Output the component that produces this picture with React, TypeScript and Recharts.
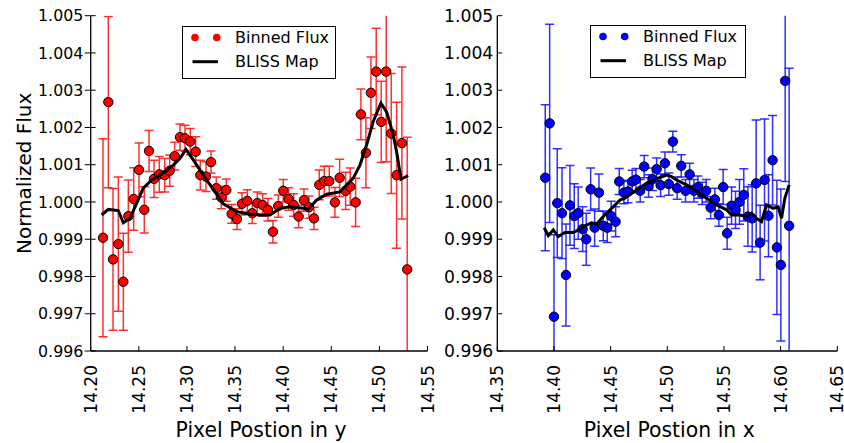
import React from 'react';
import { ComposedChart, Scatter, XAxis, YAxis, ErrorBar, Legend } from 'recharts';

// ---------- shared axis values ----------
const fluxTicks = [0.996, 0.997, 0.998, 0.999, 1.0, 1.001, 1.002, 1.003, 1.004, 1.005];
const fluxDomain = [0.996, 1.005];
const yPosTicks = [14.2, 14.25, 14.3, 14.35, 14.4, 14.45, 14.5, 14.55];
const yPosDomain = [14.2, 14.55];
const xPosTicks = [14.35, 14.4, 14.45, 14.5, 14.55, 14.6, 14.65];
const xPosDomain = [14.35, 14.65];

// ---------- left panel: pixel position in y ----------
const yBinPos = [14.2128, 14.2183, 14.2232, 14.2287, 14.2339, 14.2391, 14.2447, 14.2502, 14.2557, 14.2606,
  14.2658, 14.2713, 14.2769, 14.2821, 14.2873, 14.2928, 14.298, 14.3035, 14.3091, 14.3139,
  14.3198, 14.325, 14.3305, 14.3357, 14.3409, 14.3465, 14.352, 14.3572, 14.3627, 14.3679,
  14.3731, 14.3787, 14.3842, 14.3894, 14.3949, 14.4001, 14.4057, 14.4109, 14.4161, 14.4216,
  14.4268, 14.432, 14.4375, 14.4427, 14.4479, 14.4538, 14.4587, 14.4649, 14.4697, 14.4753,
  14.4808, 14.486, 14.4912, 14.4967, 14.5019, 14.5071, 14.5123, 14.5179, 14.5234, 14.5289];
const yBinFlux = [0.99904, 1.00268, 0.99846, 0.99887, 0.99786, 0.99962, 1.00008, 1.00086, 0.99979, 1.00137,
  1.00062, 1.00074, 1.00072, 1.00084, 1.00123, 1.00174, 1.00171, 1.00162, 1.00135, 1.00072,
  1.00068, 1.00107, 1.00037, 1.00012, 1.00032, 0.99968, 0.99954, 0.99995, 1.00003, 0.9997,
  0.99997, 0.99992, 0.99979, 0.9992, 0.99989, 1.0003, 1.00008, 0.99992, 0.99961, 1.00005,
  0.99986, 0.99956, 1.00046, 1.00056, 1.00056, 0.99999, 1.00065, 1.0003, 1.00041, 0.99999,
  1.00235, 1.00132, 1.00293, 1.0035, 1.00215, 1.0035, 1.00184, 1.00072, 1.00158, 0.99819];
const yBinErr = [0.00266, 0.0023, 0.0019, 0.0018, 0.0013, 0.00097, 0.00084, 0.00072, 0.00062, 0.00055,
  0.0005, 0.00048, 0.00045, 0.00042, 0.00037, 0.00035, 0.00035, 0.00035, 0.0004, 0.0004,
  0.0004, 0.0003, 0.0003, 0.0003, 0.0003, 0.00025, 0.00028, 0.0003, 0.0003, 0.00028,
  0.0003, 0.0003, 0.0003, 0.0003, 0.0003, 0.0003, 0.0003, 0.0003, 0.0003, 0.0003,
  0.0003, 0.0003, 0.0004, 0.0004, 0.0004, 0.0004, 0.0005, 0.0005, 0.0005, 0.00065,
  0.00068, 0.00094, 0.00096, 0.00116, 0.00109, 0.00242, 0.00161, 0.00196, 0.00204, 0.00355];
const yMapPos = [14.2114, 14.2183, 14.2287, 14.2339, 14.2408, 14.2478, 14.2546, 14.2634, 14.2754, 14.2858,
  14.2928, 14.299, 14.3066, 14.317, 14.3274, 14.3378, 14.3517, 14.3655, 14.3759, 14.3863,
  14.3967, 14.407, 14.4209, 14.426, 14.4347, 14.4452, 14.459, 14.4728, 14.4798, 14.4867,
  14.4936, 14.5016, 14.5075, 14.5144, 14.5185, 14.5224, 14.5299];
const yMapFlux = [0.99965, 0.9998, 0.99977, 0.99944, 0.99956, 0.99997, 1.00037, 1.00059, 1.00077, 1.00099,
  1.00117, 1.00141, 1.00113, 1.00072, 1.00034, 0.99995, 0.99974, 0.99967, 0.99965, 0.99965,
  0.99983, 0.99987, 0.99983, 0.9998, 1.00005, 1.00021, 1.00027, 1.00064, 1.00099, 1.00153,
  1.00216, 1.00265, 1.00242, 1.0018, 1.00126, 1.00061, 1.00071];

// ---------- right panel: pixel position in x ----------
const xBinPos = [14.3923, 14.3962, 14.4, 14.4029, 14.4071, 14.4106, 14.4141, 14.4179, 14.4214, 14.4253,
  14.4285, 14.4324, 14.4359, 14.4397, 14.4435, 14.447, 14.4505, 14.4544, 14.4576, 14.4617,
  14.4653, 14.469, 14.4723, 14.4761, 14.4796, 14.4835, 14.487, 14.4906, 14.4941, 14.4979,
  14.5014, 14.5049, 14.5087, 14.5123, 14.5161, 14.5197, 14.5235, 14.527, 14.5308, 14.5343,
  14.5382, 14.542, 14.5455, 14.5493, 14.5528, 14.5567, 14.5602, 14.5637, 14.5675, 14.5711,
  14.5749, 14.5784, 14.5819, 14.5858, 14.5893, 14.5929, 14.5967, 14.6002, 14.604, 14.6075];
const xBinFlux = [1.00065, 1.00211, 0.99692, 0.99997, 0.9997, 0.99804, 0.99991, 0.99962, 0.9997, 0.99927,
  0.999, 1.00034, 0.99931, 1.00025, 0.99936, 0.99931, 0.99962, 0.99947, 1.00055, 1.00025,
  1.00028, 1.00055, 1.0006, 1.0003, 1.00095, 1.00043, 1.00061, 1.00088, 1.00045, 1.00104,
  1.00048, 1.00162, 1.00037, 1.00097, 1.0003, 1.00074, 1.0003, 1.0004, 1.00023, 1.0003,
  0.99985, 1.00007, 0.99965, 1.0004, 0.99916, 0.9999, 0.99979, 1.0, 1.00019, 0.99961,
  0.99956, 1.0005, 0.99891, 1.00059, 0.99963, 1.00112, 0.99878, 0.99831, 1.00325, 0.99936];
const xBinErr = [0.00196, 0.00266, 0.0022, 0.00146, 0.00122, 0.00137, 0.00107, 0.00087, 0.0007, 0.0006,
  0.0007, 0.00057, 0.0005, 0.0005, 0.0004, 0.0004, 0.0004, 0.0004, 0.00035, 0.0003,
  0.0003, 0.0003, 0.0003, 0.0003, 0.0003, 0.0003, 0.0003, 0.0003, 0.0003, 0.0003,
  0.0003, 0.00028, 0.0003, 0.0003, 0.0003, 0.0003, 0.0003, 0.0003, 0.0003, 0.0003,
  0.0003, 0.0003, 0.0003, 0.00047, 0.00043, 0.0005, 0.0005, 0.0006, 0.0007, 0.0008,
  0.0009, 0.0017, 0.001, 0.00164, 0.0011, 0.0012, 0.0018, 0.00204, 0.0027, 0.00423];
const xMapPos = [14.3914, 14.395, 14.3994, 14.4038, 14.4097, 14.417, 14.4229, 14.4288, 14.4332, 14.4377,
  14.4435, 14.4509, 14.4582, 14.4626, 14.4729, 14.4817, 14.492, 14.4994, 14.5038, 14.5082,
  14.517, 14.5258, 14.5347, 14.5435, 14.5523, 14.5567, 14.564, 14.5699, 14.5743, 14.5787,
  14.5831, 14.5876, 14.5934, 14.5978, 14.6008, 14.6037, 14.6075];
const xMapFlux = [0.99931, 0.9991, 0.99925, 0.99907, 0.99918, 0.99918, 0.99927, 0.99938, 0.99944, 0.99941,
  0.99961, 0.99983, 1.00005, 1.0001, 1.00032, 1.0005, 1.00064, 1.00072, 1.00068, 1.00059,
  1.00046, 1.00028, 1.0001, 0.99992, 0.99979, 0.99965, 0.99965, 0.99961, 0.9997, 0.99956,
  0.99947, 0.99992, 0.99983, 0.99987, 0.99956, 1.0001, 1.00046];

const FONT = "'DejaVu Sans', sans-serif";
const CHART_H = 443;
const MARGIN_TOP = 15.7;
const X_AXIS_H = 92;

const zip = (xs: number[], ys: number[], es?: number[]) =>
  xs.map((x, i) => ({ x, y: ys[i], err: es ? es[i] : 0 }));

const XTick = (props: any) => {
  const { x, y, payload } = props;
  return (
    <text x={x} y={y} transform={`rotate(-90, ${x}, ${y})`} textAnchor="end" dy="0.36em"
      fontSize={17} fill="#000" fontFamily={FONT}>
      {Number(payload.value).toFixed(2)}
    </text>
  );
};

const makeYTick = (fs: number, innerOffset: number | null) => (props: any) => {
  const { x, y, payload } = props;
  return (
    <g>
      <text x={x} y={y} textAnchor="end" dy="0.36em" fontSize={fs} fill="#000" fontFamily={FONT}>
        {Number(payload.value).toFixed(3)}
      </text>
      {innerOffset !== null && (
        <line x1={x + innerOffset} x2={x + innerOffset + 5} y1={y} y2={y} stroke="#000" strokeWidth={1} />
      )}
    </g>
  );
};

const makeDot = (color: string) => (props: any) => {
  const { cx, cy } = props;
  if (cx == null || cy == null) return <g />;
  return <circle cx={cx} cy={cy} r={4.7} fill={color} stroke="#000" strokeWidth={1} />;
};

const NoDot = () => <g />;

const LegendBox = ({ color, w }: { color: string; w: number }) => (
  <svg width={w + 1} height={54} style={{ display: 'block', fontFamily: FONT }}>
    <rect x={0.5} y={0.5} width={w} height={52} fill="#fff" stroke="#000" strokeWidth={1} />
    <circle cx={13} cy={11.5} r={3.8} fill={color} />
    <circle cx={34.7} cy={11.5} r={3.8} fill={color} />
    <text x={53} y={11.5} dy="0.36em" fontSize={16} fill="#000">Binned Flux</text>
    <line x1={10.5} x2={36} y1={35.7} y2={35.7} stroke="#000" strokeWidth={3} />
    <text x={53} y={35.7} dy="0.36em" fontSize={16} fill="#000">BLISS Map</text>
  </svg>
);

type PanelProps = {
  id: string;
  left: number;
  width: number;
  yAxisWidth: number;
  marginRight: number;
  bins: { x: number; y: number; err: number }[];
  map: { x: number; y: number; err: number }[];
  color: string;
  errColor: string;
  xTicks: number[];
  xDomain: number[];
  xLabel: string;
  showYLabel: boolean;
  yTickFont: number;
  inout: boolean;
  legendLeft: number;
  legendTop: number;
  legendW: number;
};

const Panel = (p: PanelProps) => {
  const axisStroke = { stroke: '#000', strokeWidth: 1.3 };
  const plotX = p.yAxisWidth;
  const plotW = p.width - p.marginRight - p.yAxisWidth;
  const plotY = MARGIN_TOP;
  const plotH = CHART_H - X_AXIS_H - MARGIN_TOP;
  const clipId = `errclip-${p.id}`;
  return (
    <div className={`panel-${p.id}`} style={{ position: 'absolute', left: p.left, top: 0 }}>
      <svg width={0} height={0} style={{ position: 'absolute' }}>
        <defs>
          <clipPath id={clipId} clipPathUnits="userSpaceOnUse">
            <rect x={plotX} y={plotY} width={plotW} height={plotH} />
          </clipPath>
        </defs>
      </svg>
      <style>{`.panel-${p.id} [class*="errorBar"] { clip-path: url(#${clipId}); }`}</style>
      <ComposedChart width={p.width} height={CHART_H}
        margin={{ top: MARGIN_TOP, right: p.marginRight, bottom: 0, left: 0 }}>
        <XAxis dataKey="x" type="number" domain={p.xDomain} ticks={p.xTicks} allowDataOverflow
          interval={0} height={X_AXIS_H} tickSize={-5} tickMargin={19}
          axisLine={axisStroke} tickLine={{ stroke: '#000', strokeWidth: 1 }}
          tick={<XTick />}
          label={{
            content: (lp: any) => {
              const vb = lp.viewBox || {};
              return (
                <text x={vb.x + vb.width / 2 + 2} y={vb.y + 86} textAnchor="middle" fontSize={20.4}
                  fill="#000" fontFamily={FONT}>{p.xLabel}</text>
              );
            },
          }}
        />
        <XAxis xAxisId="top" orientation="top" dataKey="x" type="number" domain={p.xDomain}
          ticks={p.xTicks} allowDataOverflow interval={0} height={0} tickSize={-5} tick={false}
          axisLine={axisStroke} tickLine={{ stroke: '#000', strokeWidth: 1 }} />
        <YAxis dataKey="y" type="number" domain={fluxDomain} ticks={fluxTicks} allowDataOverflow
          interval={0} width={p.yAxisWidth}
          tickSize={p.inout ? 6 : -5} tickMargin={p.inout ? 1.4 : 9}
          axisLine={axisStroke} tickLine={{ stroke: '#000', strokeWidth: 1 }}
          tick={makeYTick(p.yTickFont, p.inout ? 7.4 : null)}
          label={p.showYLabel ? {
            content: (lp: any) => {
              const vb = lp.viewBox || {};
              const cx = 31;
              const cy = vb.y + vb.height / 2 - 10;
              return (
                <text x={cx} y={cy} transform={`rotate(-90, ${cx}, ${cy})`} textAnchor="middle"
                  fontSize={20} fill="#000" fontFamily={FONT}>Normalized Flux</text>
              );
            },
          } : undefined}
        />
        <YAxis yAxisId="right" orientation="right" dataKey="y" type="number" domain={fluxDomain}
          ticks={fluxTicks} allowDataOverflow interval={0} width={0} tickSize={-5} tick={false}
          axisLine={axisStroke} tickLine={{ stroke: '#000', strokeWidth: 1 }} />
        <Scatter data={p.bins} dataKey="y" shape={NoDot} isAnimationActive={false}>
          <ErrorBar dataKey="err" direction="y" width={4.5} stroke={p.errColor} strokeWidth={1.5}
            strokeOpacity={0.9} isAnimationActive={false} />
        </Scatter>
        <Scatter data={p.bins} dataKey="y" shape={makeDot(p.color)} isAnimationActive={false} />
        <Scatter data={p.map} dataKey="y" shape={NoDot} line={{ stroke: '#000', strokeWidth: 3 }}
          lineJointType="linear" isAnimationActive={false} />
        <Legend layout="horizontal" verticalAlign="middle" align="center" width={p.legendW + 1} height={54}
          wrapperStyle={{ position: 'absolute', left: p.legendLeft, top: p.legendTop, width: p.legendW + 1, height: 54 }}
          content={() => <LegendBox color={p.color} w={p.legendW} />} />
      </ComposedChart>
    </div>
  );
};

export default function App() {
  const leftBins = zip(yBinPos, yBinFlux, yBinErr);
  const leftMap = zip(yMapPos, yMapFlux);
  const rightBins = zip(xBinPos, xBinFlux, xBinErr);
  const rightMap = zip(xMapPos, xMapFlux);
  return (
    <div style={{ position: 'absolute', left: 0, top: 0, width: 844, height: 443, background: '#fff', fontFamily: FONT, overflow: 'hidden' }}>
      <Panel id="l" left={0} width={445} yAxisWidth={90.7} marginRight={17.5}
        bins={leftBins} map={leftMap} color="#ff0000" errColor="#ff1a1a"
        xTicks={yPosTicks} xDomain={yPosDomain} xLabel="Pixel Postion in y"
        showYLabel yTickFont={15.8} inout
        legendLeft={182} legendTop={26} legendW={153} />
      <Panel id="r" left={430} width={414} yAxisWidth={67.3} marginRight={6.7}
        bins={rightBins} map={rightMap} color="#0000ff" errColor="#1a1aff"
        xTicks={xPosTicks} xDomain={xPosDomain} xLabel="Pixel Postion in x"
        showYLabel={false} yTickFont={17.2} inout={false}
        legendLeft={160} legendTop={25} legendW={155} />
    </div>
  );
}
